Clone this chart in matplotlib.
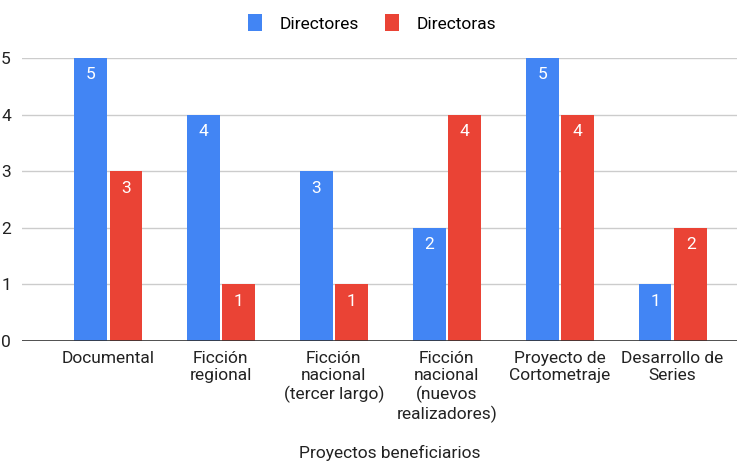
import matplotlib.pyplot as plt
import numpy as np

plt.rcParams['font.family'] = ['Roboto', 'DejaVu Sans']

categorias = ["Documental", "Ficción\nregional", "Ficción\nnacional\n(tercer largo)",
              "Ficción\nnacional\n(nuevos\nrealizadores)", "Proyecto de\nCortometraje",
              "Desarrollo de\nSeries"]
directores = [5, 4, 3, 2, 5, 1]
directoras = [3, 1, 1, 4, 4, 2]

azul = '#4285f4'
rojo = '#ea4335'

fig = plt.figure(figsize=(7.37, 4.62), dpi=100)
ax = fig.add_axes([22 / 737, 121 / 462, 1 - 22 / 737, 283 / 462])

x = np.arange(len(categorias))
ancho = 0.29
b1 = ax.bar(x - 0.155, directores, ancho, color=azul, label='Directores', zorder=3)
b2 = ax.bar(x + 0.16, directoras, ancho, color=rojo, label='Directoras', zorder=3)

for barras in (b1, b2):
    for b in barras:
        ax.text(b.get_x() + b.get_width() / 2, b.get_height() - 0.3, str(int(b.get_height())),
                ha='center', va='center', color='white', fontsize=12.5, zorder=4)

ax.set_xlim(-0.76, 5.57)
ax.set_ylim(0, 5)
ax.set_yticks(range(0, 6))
ax.yaxis.grid(True, color='#cccccc', linewidth=1, zorder=0)
ax.axhline(0, color='#333333', linewidth=1.2, zorder=5)
for s in ax.spines.values():
    s.set_visible(False)
ax.tick_params(axis='both', length=0, labelsize=12.5, colors='#222222')
ax.tick_params(axis='y', pad=8)
ax.set_xticks(x)
ax.set_xticklabels(categorias, va='top', linespacing=1.2)
ax.tick_params(axis='x', pad=7)

fig.text(390 / 737, 1 - 453 / 462, 'Proyectos beneficiarios', ha='center', va='center',
         fontsize=12.5, color='#222222')

fig.legend(handles=[b1, b2], loc='center', bbox_to_anchor=(372 / 737, 1 - 23 / 462), ncol=2,
           frameon=False, fontsize=12.5, handlelength=0.8, handleheight=1.1,
           columnspacing=1.5, handletextpad=1.0)

fig.savefig('out.png', dpi=100)
